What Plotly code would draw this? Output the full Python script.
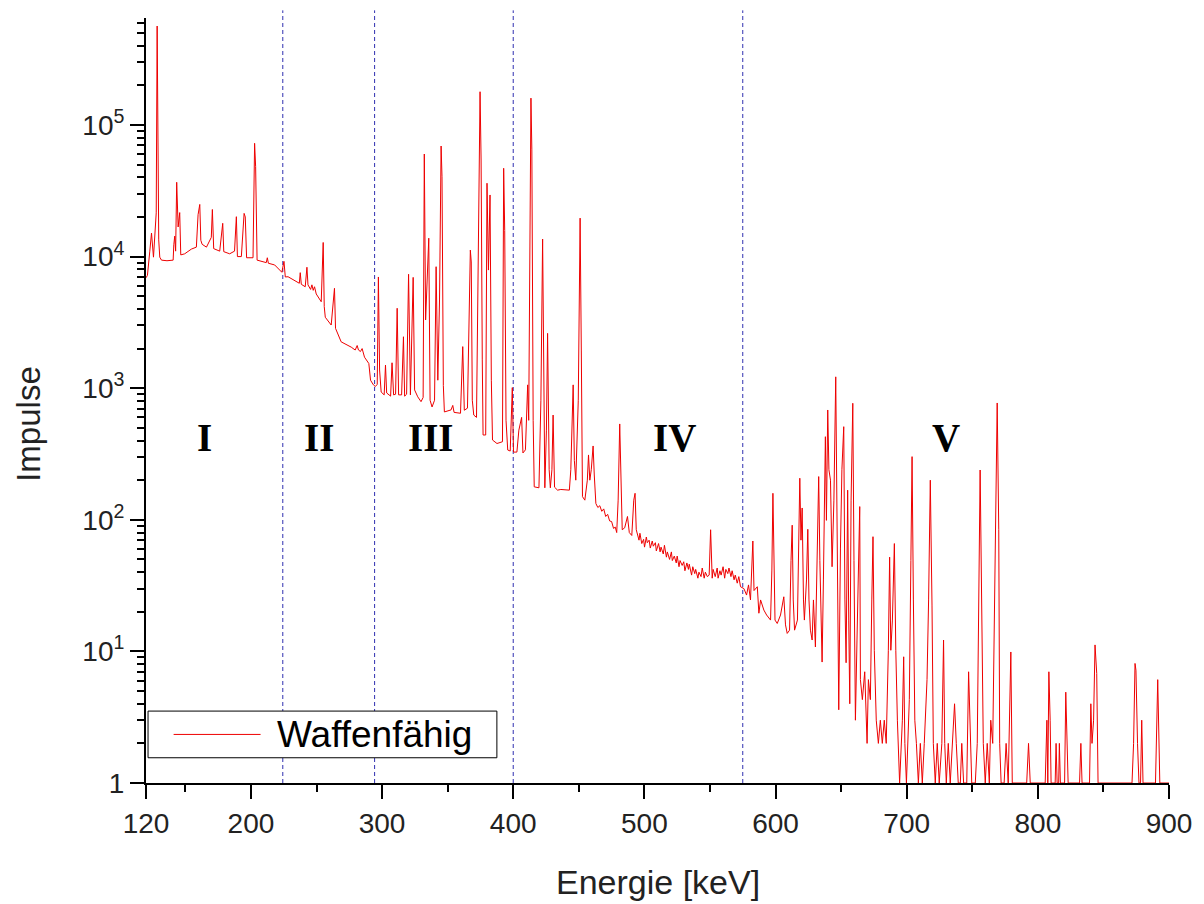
import plotly.graph_objects as go

# ---- data: (energy keV, counts), per region ----
region_I = [
    (120.0, 6900), (121.1, 7200), (122.9, 11000), (124.2, 15100), (125.7, 9900),
    (127.8, 21500), (128.5, 565000), (129.7, 13400), (130.5, 9900), (131.8, 9400),
    (136.0, 9300), (140.7, 9400), (141.2, 12300), (141.9, 14300), (142.6, 11000),
    (143.4, 36700), (144.5, 16800), (145.7, 21600), (146.5, 10300), (149.5, 10500),
    (154.6, 11400), (158.4, 11800), (159.7, 20800), (161.0, 24900), (161.8, 13300),
    (162.8, 12400), (166.1, 11800), (169.8, 14000), (170.6, 22800), (171.6, 11500),
    (176.2, 11000), (178.5, 17900), (179.3, 10900), (183.8, 10500), (187.5, 11000),
    (188.9, 20100), (189.7, 10000), (192.7, 10000), (194.8, 21300), (195.7, 20000),
    (196.7, 9800), (201.6, 9800), (202.8, 72600), (203.6, 48200), (204.7, 9400),
    (207.9, 9200), (211.7, 9000), (212.5, 9800), (213.3, 8900), (218.1, 8640),
    (221.9, 7910), (223.6, 7600),
]
region_II = [
    (225.2, 9200), (226.2, 7000), (228.3, 7030), (233.3, 6560), (236.9, 6270),
    (237.6, 7550), (238.4, 6160), (241.4, 5900), (242.7, 8300), (243.5, 6100),
    (245.5, 5630), (246.5, 6100), (247.5, 5540), (248.5, 5900), (249.8, 5200),
    (253.6, 4540), (255.1, 12800), (255.9, 4170), (256.7, 3460), (261.2, 3020),
    (263.7, 5740), (264.5, 2850), (268.8, 2250), (276.5, 2050), (279.5, 1950),
    (281.0, 2110), (282.0, 1950), (283.5, 1900), (284.8, 2000), (286.6, 1720),
    (289.9, 1540), (291.2, 1150), (293.4, 1060),
]
region_III = [
    (294.9, 1030), (296.3, 1070), (297.2, 7000), (298.1, 1375), (299.3, 935),
    (301.6, 890), (302.6, 1500), (303.5, 920), (306.5, 870), (307.6, 1560),
    (308.8, 890), (310.3, 900), (311.5, 4050), (312.6, 890), (314.9, 890),
    (316.3, 2460), (317.2, 870), (318.7, 900), (320.2, 7340), (321.6, 890),
    (323.7, 6950), (324.8, 970), (327.2, 860), (329.7, 790), (331.3, 850),
    (332.2, 60200), (333.2, 3300), (335.6, 13800), (336.6, 810), (338.1, 720),
    (340.0, 810), (341.2, 8380), (342.5, 1150), (343.8, 4680), (345.0, 69200),
    (345.7, 40400), (346.7, 1050), (347.5, 660), (352.6, 684), (353.9, 740),
    (354.9, 655), (359.8, 645), (361.5, 2070), (362.7, 680), (365.1, 705),
    (366.3, 4690), (367.3, 11200), (368.0, 9100), (368.8, 810), (369.9, 625),
    (372.0, 600), (374.7, 179000), (375.5, 54200), (376.4, 1640), (377.0, 441),
    (379.0, 441), (380.0, 36100), (381.1, 7900), (382.3, 29400), (383.3, 1150),
    (384.2, 404), (387.6, 380), (391.8, 392), (392.7, 46900), (393.5, 15800),
    (394.5, 570), (395.8, 339), (397.7, 333), (399.3, 1010),
]
region_IV = [
    (400.2, 327), (402.8, 327), (404.3, 480), (406.4, 600), (407.4, 322),
    (409.3, 340), (411.0, 1060), (411.8, 570), (413.5, 160000), (414.2, 64700),
    (415.2, 570), (416.0, 178), (419.6, 175), (421.1, 810), (422.4, 13600),
    (423.4, 480), (424.1, 175), (425.3, 480), (426.2, 2610), (427.4, 240),
    (428.3, 175), (429.5, 240), (430.4, 625), (431.5, 177), (433.8, 168),
    (436.3, 170), (440.1, 168), (442.8, 168), (443.9, 240), (445.7, 1060),
    (446.6, 282), (447.7, 200), (449.6, 810), (451.0, 19600), (451.9, 1950),
    (452.8, 150), (454.6, 141), (456.5, 200), (457.4, 311), (458.4, 200),
    (459.5, 240), (460.9, 364), (461.8, 219), (463.0, 133), (464.5, 124),
    (466.0, 128), (467.5, 116), (469.0, 121), (470.5, 106), (472.0, 110),
    (473.5, 98), (475.0, 97), (476.5, 86), (477.8, 88), (478.9, 80),
    (480.0, 141), (481.2, 535), (482.2, 141), (483.1, 84), (485.0, 87),
    (487.1, 106), (488.5, 80), (490.4, 76), (491.9, 141), (492.9, 159),
    (493.8, 84), (495.9, 70), (496.6, 79), (498.0, 66), (499.4, 71),
    (500.1, 62), (501.5, 74), (502.2, 67), (503.6, 70), (504.5, 61),
    (506.0, 69), (506.8, 63), (508.4, 67), (509.1, 58), (510.8, 66),
    (512.0, 57), (512.7, 62), (514.4, 55), (515.3, 64), (516.8, 52),
    (517.5, 57), (519.2, 50), (520.6, 57), (521.3, 49), (522.8, 53),
    (524.3, 47), (525.0, 53), (526.4, 44), (527.2, 49), (528.8, 45),
    (530.0, 48), (530.9, 41), (532.4, 47), (533.6, 42), (534.2, 46),
    (536.0, 38), (536.9, 44), (538.4, 39), (539.1, 42), (540.8, 36),
    (541.6, 40), (543.2, 37), (544.1, 43), (545.6, 36), (546.5, 40),
    (548.0, 37), (549.4, 38), (550.5, 84), (551.7, 36), (552.4, 42),
    (554.0, 37), (555.5, 43), (556.2, 36), (557.6, 41), (558.5, 38),
    (560.0, 44), (561.2, 36), (562.1, 42), (563.6, 39), (564.5, 43),
    (566.0, 37), (566.9, 41), (568.4, 35), (569.3, 38), (570.8, 33),
    (572.0, 37), (573.3, 31),
]
region_V = [
    (575.9, 30), (577.9, 26.8), (579.4, 32), (580.9, 24.6), (581.9, 49),
    (582.7, 69), (583.6, 29), (586.1, 31), (587.3, 19.5), (588.6, 24.6),
    (591.1, 20.6), (593.2, 18.9), (596.2, 17.3), (597.2, 41.5), (598.0, 159),
    (598.7, 41.5), (599.6, 17.3), (601.3, 16.3), (603.8, 18.9), (606.3, 26),
    (607.6, 15.9), (608.9, 13.7), (610.7, 14.5), (611.8, 49), (612.7, 91),
    (613.5, 24.6), (614.5, 14.5), (616.7, 17.3), (617.7, 99), (618.5, 207),
    (619.4, 70), (620.3, 123), (621.3, 24.6), (622.0, 17.3), (623.6, 34.9),
    (624.6, 84.7), (625.5, 24.6), (626.6, 14.5), (627.9, 12.2), (628.9, 24.6),
    (630.4, 10.8), (631.6, 49), (632.9, 213), (633.8, 49), (635.5, 8.3),
    (636.5, 34.9), (638.0, 428), (638.8, 99), (639.8, 683), (640.7, 240),
    (641.9, 200), (643.1, 44), (644.5, 141), (645.9, 1220), (646.8, 141),
    (648.2, 3.6), (649.5, 61), (650.6, 240), (652.0, 510), (652.9, 24.6),
    (653.8, 8.2), (655.0, 168), (655.8, 17.3), (656.6, 4.0), (657.6, 141),
    (658.9, 768), (659.8, 49), (660.9, 3.0), (662.1, 12.2), (664.2, 126),
    (664.7, 6.1), (666.2, 4.3), (668.0, 7.0), (669.8, 2.0), (670.8, 6.1),
    (672.3, 4.3), (673.4, 24.6), (674.3, 74.4), (675.3, 10.2), (676.8, 3.0),
    (678.4, 2), (679.9, 3), (681.4, 2), (682.9, 3), (684.4, 2),
    (686.0, 10.2), (687.0, 52), (687.9, 10.2), (689.1, 17.3), (690.6, 66),
    (691.7, 10.2), (692.9, 3), (694.6, 1), (695.6, 2), (696.7, 3),
    (697.7, 9.1), (698.6, 2), (699.8, 1), (700.9, 2), (702.0, 4.3),
    (703.2, 49), (704.1, 302), (705.1, 24.6), (706.2, 3), (707.4, 2),
    (708.9, 1), (710.4, 2), (711.9, 1), (713.4, 2), (715.5, 6.1),
    (716.7, 24.6), (718.0, 200), (719.3, 22.5), (720.3, 2), (721.8, 1),
    (723.3, 2), (724.8, 1), (726.8, 2), (728.1, 12.2), (729.0, 2),
    (730.2, 1), (731.7, 2), (733.2, 1), (734.8, 2), (736.5, 4),
    (737.8, 2), (739.3, 1), (740.9, 1), (742.0, 2), (743.4, 1),
    (745.8, 1), (747.2, 7), (748.5, 2), (749.6, 1), (752.3, 1),
    (753.8, 2), (756.0, 239), (757.2, 24.6), (758.4, 2), (759.9, 1),
    (761.4, 2), (763.0, 1), (764.1, 3), (765.6, 2), (767.1, 24.6),
    (769.0, 772), (770.2, 84), (770.9, 2), (772.0, 1), (774.3, 1),
    (775.8, 2), (777.4, 1), (779.4, 9.9), (780.5, 1), (791.5, 1),
    (792.9, 2), (794.2, 1), (805.6, 1), (806.9, 3), (807.6, 1),
    (808.4, 7), (809.4, 3), (810.1, 1), (813.2, 1), (813.9, 2),
    (814.7, 1), (815.9, 1), (816.4, 2), (817.2, 1), (820.4, 1),
    (821.3, 4.9), (822.3, 2), (823.1, 1), (831.8, 1), (832.8, 2),
    (833.7, 1), (839.4, 1), (840.4, 4), (841.3, 2), (842.5, 3),
    (843.6, 11.2), (844.9, 6.8), (845.9, 1), (871.8, 1), (873.0, 2),
    (874.1, 8.1), (874.8, 7.2), (876.0, 2), (877.1, 1), (878.3, 1),
    (879.2, 3), (880.2, 1), (889.7, 1), (891.4, 6.1), (892.3, 2),
    (893.0, 1), (900.0, 1),
]

region_borders = [224.3, 294.3, 400.0, 575.0]
region_names = ["I", "II", "III", "IV", "V"]
region_label_x = [164.5, 252.1, 337.4, 523.0, 730.0]

x_ticks = [120, 200, 300, 400, 500, 600, 700, 800, 900]
x_minor = [150, 250, 350, 450, 550, 650, 750, 850]
y_ticks = [1, 10, 100, 1000, 10000, 100000]
y_ticktext = ["1", "10<sup>1</sup>", "10<sup>2</sup>", "10<sup>3</sup>",
              "10<sup>4</sup>", "10<sup>5</sup>"]
series_name = "Waffenfähig"

points = region_I + region_II + region_III + region_IV + region_V
energy = [p[0] for p in points]
counts = [p[1] for p in points]

y_minor = [m * 10 ** k for k in range(0, 6) for m in range(2, 10)]

FONT = "Liberation Sans, Arial, sans-serif"
RED = "#ee0000"

fig = go.Figure()
fig.add_trace(go.Scatter(
    x=energy, y=counts, mode="lines", name=series_name,
    line=dict(color=RED, width=1), showlegend=False,
))

# region borders
for xb in region_borders:
    fig.add_shape(type="line", xref="x", yref="paper", x0=xb, x1=xb, y0=0, y1=1.01,
                  line=dict(color="#3030b0", width=1, dash="4px,3px"), layer="below")

# region labels
for name, xl in zip(region_names, region_label_x):
    fig.add_annotation(x=xl, y=0.451, xref="x", yref="paper", text=name,
                       showarrow=False, xanchor="center", yanchor="middle",
                       font=dict(family="Liberation Serif, Times New Roman, serif",
                                 size=39, color="black", weight="bold"))

# legend (drawn manually to match the reference box)
fig.add_shape(type="rect", xref="paper", yref="paper", x0=0.002, x1=0.343,
              y0=0.033, y1=0.094, line=dict(color="black", width=1),
              fillcolor="white", layer="above")
fig.add_shape(type="line", xref="paper", yref="paper", x0=0.027, x1=0.112,
              y0=0.0635, y1=0.0635, line=dict(color=RED, width=1), layer="above")
fig.add_annotation(x=0.126, y=0.0635, xref="paper", yref="paper", text=series_name,
                   showarrow=False, xanchor="left", yanchor="middle",
                   font=dict(family=FONT, size=37, color="black"))

# axis titles
fig.add_annotation(x=0.5, y=-0.129, xref="paper", yref="paper", text="Energie [keV]",
                   showarrow=False, xanchor="center", yanchor="middle",
                   font=dict(family=FONT, size=34, color="#222222"))
fig.add_annotation(x=-0.115, y=0.47, xref="paper", yref="paper", text="Impulse",
                   showarrow=False, xanchor="center", yanchor="middle", textangle=-90,
                   font=dict(family=FONT, size=33, color="#222222"))

fig.update_layout(
    width=1204, height=904,
    margin=dict(l=146, r=35, t=18, b=121),
    paper_bgcolor="white", plot_bgcolor="white",
    font=dict(family=FONT, color="black"),
    xaxis=dict(
        range=[120, 900], showgrid=False, zeroline=False,
        showline=True, linecolor="black", linewidth=2,
        ticks="outside", ticklen=14, tickwidth=2, tickcolor="black",
        tickmode="array", tickvals=x_ticks,
        tickfont=dict(family=FONT, size=28, color="#222222"),
        minor=dict(tickmode="array", tickvals=x_minor, ticks="outside",
                   ticklen=7, tickwidth=2, tickcolor="black", showgrid=False),
    ),
    yaxis=dict(
        type="log", range=[0, 5.813], showgrid=False, zeroline=False,
        showline=True, linecolor="black", linewidth=2,
        ticks="outside", ticklen=14, tickwidth=2, tickcolor="black",
        tickmode="array", tickvals=y_ticks, ticktext=y_ticktext,
        tickfont=dict(family=FONT, size=28, color="#222222"),
        minor=dict(tickmode="array", tickvals=y_minor, ticks="outside",
                   ticklen=7, tickwidth=2, tickcolor="black", showgrid=False),
    ),
)

fig.write_html("out.html")
